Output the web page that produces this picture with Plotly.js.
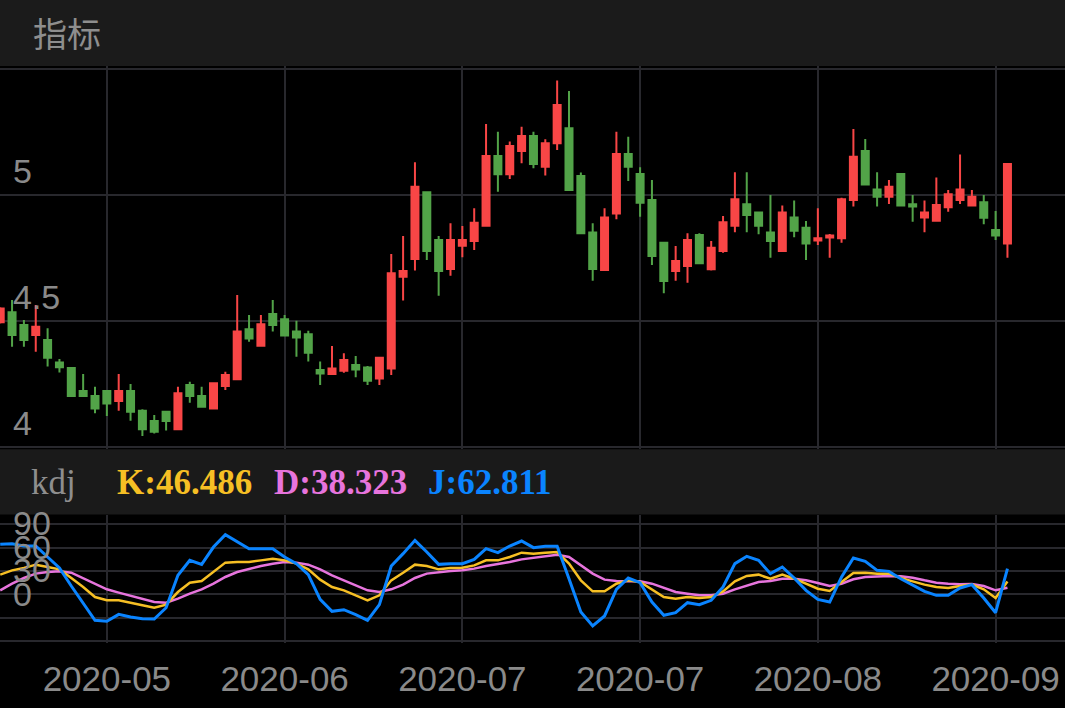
<!DOCTYPE html>
<html>
<head>
<meta charset="utf-8">
<script src="https://cdn.plot.ly/plotly-3.0.1.min.js"></script>
<style>
html,body{margin:0;padding:0;background:#000;}
#chart{width:1065px;height:708px;}
</style>
</head>
<body>
<div id="chart"></div>
<script>
// ---- data ----
const openP  = [4.495,4.535,4.484,4.444,4.425,4.335,4.313,4.222,4.202,4.222,
                4.183,4.222,4.144,4.103,4.140,4.070,4.246,4.202,4.153,4.242,
                4.269,4.467,4.402,4.528,4.507,4.458,4.447,4.306,4.290,4.303,
                4.325,4.315,4.272,4.312,4.676,4.746,5.011,4.821,4.706,4.799,
                4.817,4.878,5.155,5.082,5.175,5.234,5.112,5.205,5.265,5.075,
                4.851,4.702,4.927,5.163,5.083,4.980,4.811,4.698,4.718,4.841,
                4.705,4.778,4.878,4.963,4.931,4.851,4.778,4.911,4.870,4.819,
                4.831,4.828,4.980,5.175,5.022,4.993,5.083,4.963,4.911,4.898,
                4.951,4.980,4.958,4.971,4.861,4.808];
const highP  = [4.555,4.583,4.504,4.563,4.471,4.349,4.315,4.290,4.239,4.224,
                4.290,4.250,4.150,4.127,4.144,4.239,4.259,4.239,4.255,4.299,
                4.603,4.524,4.524,4.583,4.524,4.501,4.461,4.339,4.401,4.372,
                4.361,4.321,4.356,4.766,4.837,5.130,5.013,4.837,4.888,4.877,
                4.947,5.282,5.251,5.212,5.271,5.251,5.221,5.454,5.413,5.089,
                4.888,4.947,5.251,5.231,5.110,5.060,4.813,4.798,4.848,4.848,
                4.817,4.917,5.090,5.090,4.933,5.000,4.958,4.978,4.897,4.947,
                4.845,4.989,5.262,5.222,5.090,5.060,5.085,5.000,4.978,5.069,
                5.020,5.161,5.020,5.000,4.937,5.125];
const lowP   = [4.490,4.398,4.398,4.378,4.319,4.296,4.200,4.200,4.134,4.123,
                4.144,4.104,4.044,4.054,4.065,4.068,4.176,4.158,4.151,4.226,
                4.266,4.418,4.398,4.458,4.438,4.358,4.339,4.246,4.286,4.295,
                4.277,4.246,4.246,4.286,4.581,4.700,4.742,4.600,4.680,4.753,
                4.782,4.874,5.013,5.063,5.126,5.106,5.077,5.179,5.016,4.845,
                4.660,4.700,4.904,5.056,4.914,4.722,4.610,4.660,4.652,4.726,
                4.700,4.771,4.852,4.852,4.844,4.751,4.776,4.832,4.742,4.802,
                4.751,4.811,4.954,5.040,4.954,4.964,4.954,4.894,4.852,4.894,
                4.934,4.964,4.954,4.884,4.821,4.751];
const closeP = [4.550,4.444,4.425,4.477,4.354,4.316,4.202,4.202,4.153,4.173,
                4.222,4.140,4.070,4.061,4.103,4.213,4.202,4.160,4.253,4.286,
                4.458,4.431,4.487,4.484,4.442,4.435,4.374,4.292,4.312,4.345,
                4.308,4.263,4.354,4.689,4.698,5.033,4.778,4.698,4.821,4.821,
                4.890,5.155,5.082,5.194,5.234,5.123,5.205,5.357,5.020,4.848,
                4.706,4.911,5.163,5.112,4.969,4.758,4.659,4.738,4.821,4.729,
                4.791,4.892,4.983,4.921,4.878,4.817,4.931,4.858,4.808,4.828,
                4.839,4.983,5.152,5.042,4.993,5.033,4.958,4.954,4.931,4.960,
                5.003,5.022,4.993,4.910,4.839,5.123];

const kVals = [55.2,60.7,63.7,68.0,65.0,62.0,50.9,39.4,26.5,22.3,
               22.3,18.8,15.9,12.9,16.7,32.9,44.9,47.1,59.4,70.6,
               71.4,71.4,73.5,75.7,73.5,69.3,62.0,48.8,39.4,35.1,
               28.5,22.3,28.7,47.9,57.7,68.0,66.3,62.0,63.7,64.1,
               67.1,73.5,73.5,77.8,83.4,82.1,83.4,84.2,69.3,47.9,
               33.8,33.8,43.6,47.9,45.8,36.4,26.5,24.4,26.5,25.3,
               26.5,33.8,46.6,53.5,55.2,50.0,55.2,50.0,43.6,37.2,
               34.2,45.8,57.3,57.7,56.5,56.5,50.9,46.6,42.4,39.4,
               38.1,40.6,42.4,36.4,25.3,46.486];
const dVals = [35.1,43.6,50.9,56.5,58.6,59.4,57.7,50.9,43.6,36.4,
               32.1,27.8,23.5,20.1,19.3,24.4,30.8,36.4,43.6,52.2,
               58.6,62.9,66.3,69.3,71.4,70.6,68.0,62.0,54.3,47.9,
               41.0,35.1,32.9,36.4,42.4,50.9,56.5,58.6,59.9,60.7,
               62.9,66.3,68.4,71.4,74.8,77.0,78.7,80.8,77.8,67.1,
               56.5,48.8,47.1,46.6,46.6,43.6,38.1,32.9,30.8,28.7,
               28.7,30.8,36.4,41.5,45.8,47.1,50.0,50.0,47.9,44.5,
               40.6,43.6,49.2,52.2,53.0,53.5,53.0,51.3,47.9,44.9,
               43.6,42.8,43.2,40.6,35.1,38.323];
const jVals = [94.1,94.9,91.9,91.9,77.8,63.7,40.6,18.0,-3.4,-4.6,
               4.3,0.9,-1.2,-1.7,12.8,54.3,73.5,68.4,90.6,106.4,
               97.4,88.5,88.5,88.5,77.8,69.2,55.1,23.6,8.2,10.3,
               4.0,-3.4,16.7,66.3,82.1,99.2,84.2,68.4,69.2,69.2,
               74.8,88.5,83.4,91.9,98.3,89.8,91.5,91.5,50.0,7.3,
               -10.6,2.2,36.4,50.9,44.9,20.1,3.1,6.4,19.3,16.7,
               22.3,39.4,69.3,78.7,73.5,56.5,65.0,50.9,35.1,23.5,
               20.1,52.2,76.5,72.3,60.7,59.4,50.0,42.4,33.8,28.7,
               28.7,38.1,42.4,25.3,6.4,62.811];

const tickIdx    = [9, 24, 39, 54, 69, 84];
const tickLabels = ['2020-05','2020-06','2020-07','2020-07','2020-08','2020-09'];
const priceTicks = [4, 4.5, 5, 5.5];
const priceTickText = ['4','4.5','5',''];
const kdjTicks = [-30, 0, 30, 60, 90, 120];
const kdjTickText = ['', '0', '30', '60', '90', ''];

const headerTitle = '指标';
const kdjName = 'kdj';
const kLabel = 'K:46.486';
const dLabel = 'D:38.323';
const jLabel = 'J:62.811';

// ---- chart ----
const xs = openP.map((_, i) => i);
const W = 1065, H = 708;
const GRID = '#28282d';
const LABEL = '#8a8a8a';
const SANS = 'Liberation Sans, Arial, sans-serif';
const SERIF = 'Liberation Serif, Times New Roman, serif';
const RED = '#f84646', GREEN = '#52a348';

const py = p => 1 - p / H;   // pixel row -> paper y
const px = p => p / W;

const traces = [
  {
    type: 'candlestick', x: xs, open: openP, high: highP, low: lowP, close: closeP,
    xaxis: 'x', yaxis: 'y',
    increasing: {line: {color: RED, width: 2}, fillcolor: RED},
    decreasing: {line: {color: GREEN, width: 2}, fillcolor: GREEN},
    whiskerwidth: 0, hoverinfo: 'skip', showlegend: false
  },
  {type: 'scatter', mode: 'lines', x: xs, y: dVals, xaxis: 'x2', yaxis: 'y2',
   line: {color: '#e774dd', width: 2.5}, hoverinfo: 'skip'},
  {type: 'scatter', mode: 'lines', x: xs, y: kVals, xaxis: 'x2', yaxis: 'y2',
   line: {color: '#f6bf24', width: 2.5}, hoverinfo: 'skip'},
  {type: 'scatter', mode: 'lines', x: xs, y: jVals, xaxis: 'x2', yaxis: 'y2',
   line: {color: '#0a84ff', width: 3}, hoverinfo: 'skip'}
];

const xr = [(0 - 0.2) / 11.85, (W - 0.2) / 11.85];

const layout = {
  width: W, height: H,
  margin: {l: 0, r: 0, t: 0, b: 0, pad: 0},
  paper_bgcolor: '#000', plot_bgcolor: '#000',
  showlegend: false,
  boxgap: 0.41, boxgroupgap: 0,
  xaxis: {
    domain: [0, 1], anchor: 'y', range: xr, tickmode: 'array', tickvals: tickIdx,
    showticklabels: false, ticks: '', showgrid: true, gridcolor: GRID, gridwidth: 2,
    zeroline: false, showline: false, rangeslider: {visible: false}, fixedrange: true
  },
  yaxis: {
    domain: [py(449), py(66)], anchor: 'x', range: [5 - (449 - 195) / 252, 5 + (195 - 66) / 252],
    tickmode: 'array', tickvals: priceTicks, ticktext: priceTickText,
    ticklabelposition: 'inside', ticklabelshift: -24, ticklabelstandoff: 10, ticks: '',
    ticklabeloverflow: 'allow',
    tickfont: {family: SANS, size: 34, color: LABEL},
    showgrid: true, gridcolor: GRID, gridwidth: 2, zeroline: false, showline: false, fixedrange: true
  },
  xaxis2: {
    domain: [0, 1], anchor: 'y2', range: xr, tickmode: 'array', tickvals: tickIdx, ticktext: tickLabels,
    ticks: '', ticklabelstandoff: 12, tickfont: {family: SANS, size: 35, color: LABEL},
    showgrid: true, gridcolor: GRID, gridwidth: 2, zeroline: false, showline: false, fixedrange: true
  },
  yaxis2: {
    domain: [py(642.5), py(514.5)], anchor: 'x2',
    range: [(617.7 - 642.5) / 0.78, (617.7 - 514.5) / 0.78],
    tickmode: 'array', tickvals: kdjTicks, ticktext: kdjTickText,
    ticklabelposition: 'inside', ticklabelshift: -24, ticklabelstandoff: 10, ticks: '',
    ticklabeloverflow: 'allow',
    tickfont: {family: SANS, size: 34, color: LABEL},
    showgrid: true, gridcolor: GRID, gridwidth: 2, zeroline: false, showline: false, fixedrange: true
  },
  shapes: [
    {type: 'rect', xref: 'paper', yref: 'paper', x0: 0, x1: 1, y0: py(66), y1: 1,
     fillcolor: '#1b1b1b', line: {width: 0}, layer: 'below'},
    {type: 'rect', xref: 'paper', yref: 'paper', x0: 0, x1: 1, y0: py(514.5), y1: py(449.3),
     fillcolor: '#1a1a1a', line: {width: 0}, layer: 'below'}
  ],
  annotations: [
    {text: headerTitle, xref: 'paper', yref: 'paper', x: px(31), y: py(33), xanchor: 'left', yanchor: 'middle',
     showarrow: false, font: {family: 'Noto Sans CJK SC', size: 34, color: '#8e8e8e'}},
    {text: kdjName, xref: 'paper', yref: 'paper', x: px(29), y: py(482), xanchor: 'left', yanchor: 'middle',
     showarrow: false, font: {family: SERIF, size: 35, color: '#8e8e8e'}},
    {text: '<b>' + kLabel + '</b>', xref: 'paper', yref: 'paper', x: px(115), y: py(482), xanchor: 'left', yanchor: 'middle',
     showarrow: false, font: {family: SERIF, size: 35, color: '#f6bf24'}},
    {text: '<b>' + dLabel + '</b>', xref: 'paper', yref: 'paper', x: px(272), y: py(482), xanchor: 'left', yanchor: 'middle',
     showarrow: false, font: {family: SERIF, size: 35, color: '#e774dd'}},
    {text: '<b>' + jLabel + '</b>', xref: 'paper', yref: 'paper', x: px(426), y: py(482), xanchor: 'left', yanchor: 'middle',
     showarrow: false, font: {family: SERIF, size: 35, color: '#0a84ff'}}
  ]
};

Plotly.newPlot('chart', traces, layout, {displayModeBar: false, staticPlot: true});
</script>
</body>
</html>
